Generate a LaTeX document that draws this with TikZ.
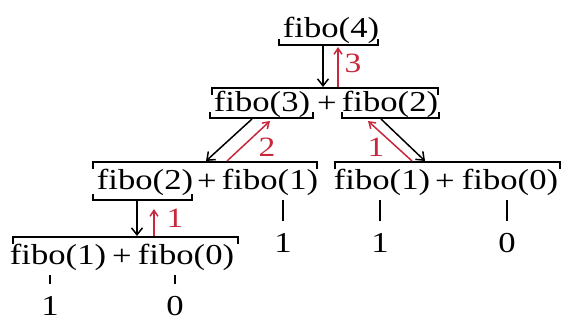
\documentclass[tikz,border=0pt]{standalone}
\usepackage{fontspec}
\setmainfont{Liberation Serif}[FakeStretch=1.2]
\usepackage{xcolor}
\usepackage{tikz}
\usetikzlibrary{arrows.meta}

\definecolor{retred}{RGB}{200,40,60}

\begin{document}
\begin{tikzpicture}[x=1bp,y=-1bp,
  term/.style={inner sep=0pt,font=\fontsize{29}{31}\selectfont},
  retlbl/.style={retred,inner sep=0pt,font=\fontsize{28}{30}\selectfont},
  brk/.style={line width=2pt},
  call/.style={line width=1.5pt,-{Straight Barb[length=7pt,width=11pt]}},
  ret/.style={retred,line width=1.5pt,-{Straight Barb[length=6pt,width=8pt]}},
  leaf/.style={line width=2pt,shorten <=12pt,shorten >=5pt}]
\useasboundingbox (0,0) rectangle (562,322);

% calls
\node[term] (f4) at (331,30) {fibo(4)};
\node[term] (f3) at (262,104) {fibo(3)};
\node[term] (pa) at (327,104) {+};
\node[term] (f2r) at (390,104) {fibo(2)};
\node[term] (f2l) at (145,182) {fibo(2)};
\node[term] (pb) at (207,182) {+};
\node[term] (f1l) at (270,182) {fibo(1)};
\node[term] (f1r) at (382,182) {fibo(1)};
\node[term] (pc) at (445,182) {+};
\node[term] (f0r) at (510,182) {fibo(0)};
\node[term] (f1b) at (58,257) {fibo(1)};
\node[term] (pd) at (122,257) {+};
\node[term] (f0b) at (186,257) {fibo(0)};

% base values
\node[term] (v1) at (283,243) {1};
\node[term] (v2) at (380,243) {1};
\node[term] (v3) at (507,243) {0};
\node[term] (v4) at (50,306) {1};
\node[term] (v5) at (175,306) {0};

% brackets under / over
\foreach \a/\b/\c in {279/378/45, 210/313/118, 342/439/118, 93/192/200}
  \draw[brk] (\a,\c-6) -- (\a,\c) -- (\b,\c) -- (\b,\c-6);
\foreach \a/\b/\c in {212/438/88, 93/317/162, 335/560/162, 13/238/237}
  \draw[brk] (\a,\c+7) -- (\a,\c) -- (\b,\c) -- (\b,\c+7);

% arrow ends on the brackets
\coordinate (a1) at (323,46);  \coordinate (b1) at (323,87);
\coordinate (a2) at (252,119); \coordinate (b2) at (206,161);
\coordinate (a3) at (381,119); \coordinate (b3) at (425,161);
\coordinate (a4) at (137,201); \coordinate (b4) at (137,236);
\coordinate (c1) at (338,87);  \coordinate (d1) at (338,47);
\coordinate (c2) at (227,161); \coordinate (d2) at (270,121);
\coordinate (c3) at (412,161); \coordinate (d3) at (368,121);
\coordinate (c4) at (154,236); \coordinate (d4) at (154,209);

\foreach \a/\b in {a1/b1, a2/b2, a3/b3, a4/b4}
  \draw[call] (\a) -- (\b);
\foreach \a/\b in {c1/d1, c2/d2, c3/d3, c4/d4}
  \draw[ret] (\a) -- (\b);

\node[retlbl] (l3) at (353,63) {3};
\node[retlbl] (l2) at (267,147) {2};
\node[retlbl] (l1r) at (376,147) {1};
\node[retlbl] (l1b) at (175,218) {1};

\foreach \v/\t in {v1/f1l, v2/f1r, v3/f0r, v4/f1b, v5/f0b}
  \draw[leaf] (\v.north) -- (\v.north |- \t.south);
\end{tikzpicture}
\end{document}
